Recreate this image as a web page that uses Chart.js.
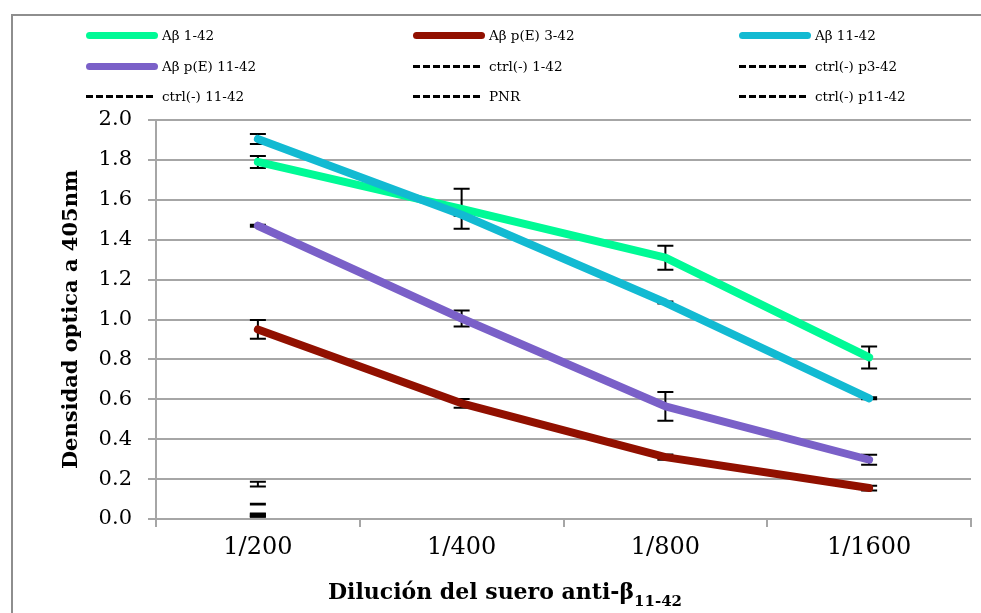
<!DOCTYPE html>
<html>
<head>
<meta charset="utf-8">
<script src="https://cdn.jsdelivr.net/npm/chart.js@4.4.1/dist/chart.umd.min.js"></script>
<style>
  html, body { margin: 0; padding: 0; background: #fff; overflow: hidden; }
  #wrap { position: relative; width: 981px; height: 613px; overflow: hidden; }
  #chart { position: absolute; left: 0; top: 0; }
  #legend { position: absolute; left: 0; top: 0; font: 13.5px 'DejaVu Serif'; color: #000; }
  .item { position: absolute; display: flex; align-items: center; height: 20px; white-space: nowrap; }
  .swatch { width: 72px; margin-right: 4px; }
</style>
</head>
<body>
<div id="wrap">
  <canvas id="chart" width="981" height="613"></canvas>
  <div id="legend"></div>
</div>
<script>
// dilutions on the x axis
const dilutions = ['1/200', '1/400', '1/800', '1/1600'];

// optical density at 405nm
const ab142 = [1.79, 1.555, 1.31, 0.81];
const ab142Err = [0.03, 0.10, 0.06, 0.055];
const abpE342 = [0.95, 0.58, 0.31, 0.155];
const abpE342Err = [0.047, 0.022, 0.013, 0.012];
const ab1142 = [1.905, 1.525, 1.085, 0.605];
const ab1142Err = [0.025, 0.005, 0.005, 0.005];
const abpE1142 = [1.47, 1.005, 0.565, 0.297];
const abpE1142Err = [0.005, 0.04, 0.072, 0.025];

// negative controls only measured at 1/200
const ctrl142 = [0.175, null, null, null];
const ctrl142Err = [0.012, null, null, null];
const ctrlp342 = [0.075, null, null, null];
const ctrlp342Err = [0.002, null, null, null];
const ctrl1142 = [0.02, null, null, null];
const ctrl1142Err = [0.008, null, null, null];
const pnr = [0.015, null, null, null];
const pnrErr = [0.004, null, null, null];
const ctrlp1142 = [0.02, null, null, null];
const ctrlp1142Err = [0.005, null, null, null];

const GRID = '#a6a6a6';

function solid(label, data, errors, color, order) {
    return {
        label, data, errors, order,
        borderColor: color, backgroundColor: color,
        borderWidth: 8, borderCapStyle: 'round', borderJoinStyle: 'round',
        pointRadius: 0, tension: 0
    };
}
function dashed(label, data, errors) {
    return {
        label, data, errors, order: 10,
        borderColor: '#000', backgroundColor: '#000',
        borderWidth: 3, borderDash: [7, 3],
        pointRadius: 0, tension: 0
    };
}

const datasets = [
    solid('Aβ 1-42', ab142, ab142Err, 'rgb(0, 250, 150)', 4),
    solid('Aβ p(E) 3-42', abpE342, abpE342Err, 'rgb(145, 16, 0)', 3),
    solid('Aβ 11-42', ab1142, ab1142Err, 'rgb(18, 186, 210)', 1),
    solid('Aβ p(E) 11-42', abpE1142, abpE1142Err, 'rgb(122, 96, 200)', 2),
    dashed('ctrl(-) 1-42', ctrl142, ctrl142Err),
    dashed('ctrl(-) p3-42', ctrlp342, ctrlp342Err),
    dashed('ctrl(-) 11-42', ctrl1142, ctrl1142Err),
    dashed('PNR', pnr, pnrErr),
    dashed('ctrl(-) p11-42', ctrlp1142, ctrlp1142Err)
];

// chart frame (only left + top edges are inside the crop)
const frame = {
    id: 'frame',
    beforeDraw(chart) {
        const ctx = chart.ctx;
        ctx.save();
        ctx.strokeStyle = '#8e8e8e';
        ctx.lineWidth = 2;
        ctx.beginPath();
        ctx.moveTo(12, chart.height);
        ctx.lineTo(12, 15);
        ctx.lineTo(chart.width, 15);
        ctx.stroke();
        ctx.restore();
    }
};

// black error bars, drawn under the lines like Excel does
const errorBars = {
    id: 'errorBars',
    beforeDatasetsDraw(chart) {
        const ctx = chart.ctx;
        const y = chart.scales.y;
        chart.data.datasets.forEach((ds, i) => {
            const meta = chart.getDatasetMeta(i);
            ds.errors.forEach((e, j) => {
                const v = ds.data[j];
                if (v == null || e == null) return;
                const px = meta.data[j].x;
                const top = y.getPixelForValue(v + e);
                const bot = y.getPixelForValue(v - e);
                ctx.save();
                ctx.strokeStyle = '#000';
                ctx.lineWidth = 2;
                ctx.beginPath();
                ctx.moveTo(px, top); ctx.lineTo(px, bot);
                ctx.moveTo(px - 8, top); ctx.lineTo(px + 8, top);
                ctx.moveTo(px - 8, bot); ctx.lineTo(px + 8, bot);
                ctx.stroke();
                ctx.restore();
            });
        });
    }
};

// x axis title with the subscript
const xTitle = {
    id: 'xTitle',
    afterDraw(chart) {
        const ctx = chart.ctx;
        const main = 'Dilución del suero anti-β';
        const sub = '11-42';
        ctx.save();
        ctx.fillStyle = '#000';
        ctx.textBaseline = 'alphabetic';
        ctx.font = 'bold 22px "DejaVu Serif"';
        const w1 = ctx.measureText(main).width;
        ctx.font = 'bold 15px "DejaVu Serif"';
        const w2 = ctx.measureText(sub).width;
        const x0 = 505 - (w1 + w2) / 2;
        ctx.font = 'bold 22px "DejaVu Serif"';
        ctx.fillText(main, x0, 599);
        ctx.font = 'bold 15px "DejaVu Serif"';
        ctx.fillText(sub, x0 + w1, 606);
        ctx.restore();
    }
};

new Chart(document.getElementById('chart'), {
    type: 'line',
    data: { labels: dilutions, datasets },
    options: {
        responsive: false,
        animation: false,
        layout: { padding: { left: 55, top: 120, right: 10, bottom: 0 } },
        plugins: {
            legend: { display: false },
            tooltip: { enabled: false }
        },
        scales: {
            x: {
                offset: true,
                grid: { offset: true, drawOnChartArea: false, drawTicks: true, tickLength: 8, color: GRID, lineWidth: 2 },
                border: { color: GRID, width: 2 },
                ticks: { color: '#000', font: { family: 'DejaVu Serif', size: 24 }, padding: 6 },
                afterFit(s) { s.height = 94; }
            },
            y: {
                min: 0, max: 2,
                grid: { color: GRID, lineWidth: 2, tickLength: 8 },
                border: { color: GRID, width: 2 },
                ticks: {
                    stepSize: 0.2, color: '#000', padding: 16,
                    font: { family: 'DejaVu Serif', size: 21 },
                    callback: v => v.toFixed(1)
                },
                title: {
                    display: true, text: 'Densidad optica a 405nm', color: '#000',
                    font: { family: 'DejaVu Serif', size: 21, weight: 'bold' },
                    padding: { top: 4, bottom: 0 }
                },
                afterFit(s) { s.width = 101; }
            }
        }
    },
    plugins: [frame, errorBars, xTitle]
});

// legend: 3 columns, row-major like the original
const legendCols = [86, 413, 739];
const legendRows = [35, 66, 96];
const legendEl = document.getElementById('legend');
datasets.forEach((ds, i) => {
    const item = document.createElement('div');
    item.className = 'item';
    item.style.left = legendCols[i % 3] + 'px';
    item.style.top = (legendRows[Math.floor(i / 3)] - 10) + 'px';
    const sw = document.createElement('div');
    sw.className = 'swatch';
    if (ds.borderDash) {
        sw.style.height = '3px';
        sw.style.width = '68px';
        sw.style.marginRight = '8px';
        sw.style.background = 'repeating-linear-gradient(to right, #000 0 7px, transparent 7px 10px)';
    } else {
        sw.style.height = '7px';
        sw.style.borderRadius = '4px';
        sw.style.background = ds.borderColor;
    }
    const txt = document.createElement('span');
    txt.textContent = ds.label;
    item.appendChild(sw);
    item.appendChild(txt);
    legendEl.appendChild(item);
});
</script>
</body>
</html>
